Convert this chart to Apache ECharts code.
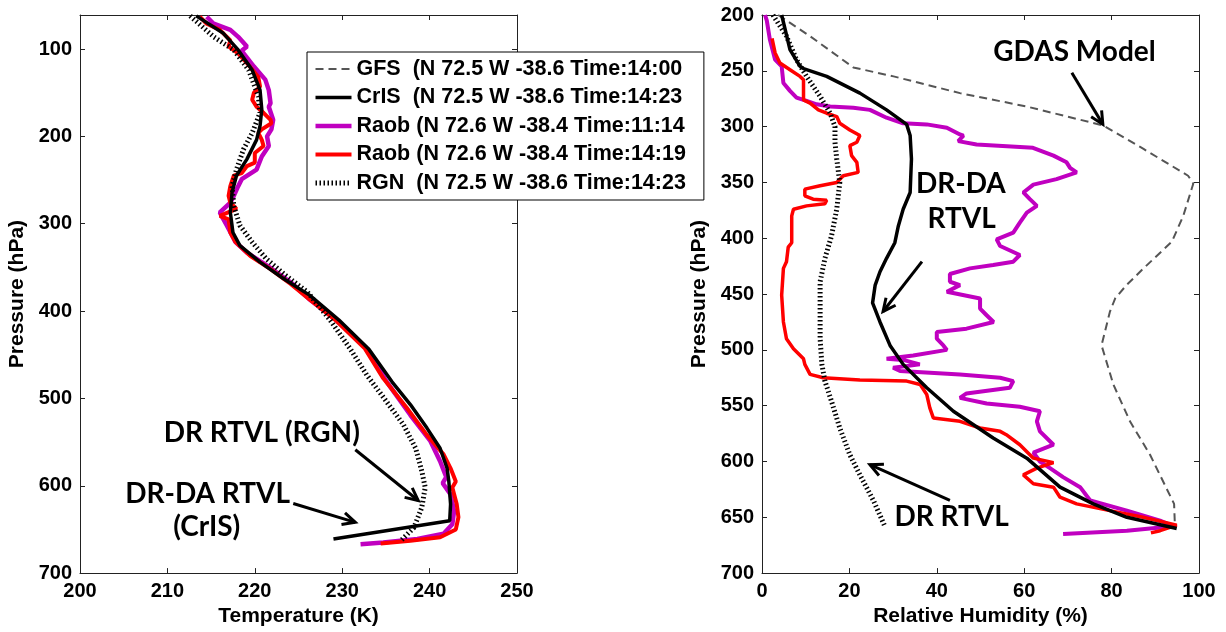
<!DOCTYPE html>
<html>
<head>
<meta charset="utf-8">
<title>Temperature / RH profiles</title>
<script src="https://cdn.jsdelivr.net/npm/echarts@6/dist/echarts.min.js"></script>
<style>
html, body { margin: 0; padding: 0; background: #fff; }
#main { width: 1226px; height: 632px; }
</style>
</head>
<body>
<div id="main"></div>
<script>
// ---- legend names ----
var nameGfs = 'GFS  (N 72.5 W -38.6 Time:14:00';
var nameCris = 'CrIS  (N 72.5 W -38.6 Time:14:23';
var nameRaob1 = 'Raob (N 72.6 W -38.4 Time:11:14';
var nameRaob2 = 'Raob (N 72.6 W -38.4 Time:14:19';
var nameRgn = 'RGN  (N 72.5 W -38.6 Time:14:23';

// ---- left panel: temperature (K) vs pressure (hPa) ----
var crisTempP = [62, 82, 101, 124, 147, 169, 188, 204, 226, 245, 264, 287, 310, 325, 344, 363, 382, 410, 443, 481, 507, 534, 557, 580, 595, 621, 640, 661];
var crisTemp  = [213.3, 216.4, 218.1, 219.7, 220.6, 220.8, 220.6, 220.2, 219.1, 217.9, 217.4, 217.2, 217.5, 218.3, 220.6, 223.3, 226.3, 229.6, 233.0, 235.7, 237.8, 239.7, 241.2, 242.0, 242.2, 242.4, 242.3, 229.0];

var rgnTempP = [62, 86, 101, 124, 154, 173, 196, 215, 238, 257, 280, 302, 321, 340, 359, 378, 410, 443, 473, 504, 530, 557, 583, 602, 625, 648, 663];
var rgnTemp  = [212.6, 215.3, 217.6, 219.3, 220.4, 220.6, 219.7, 218.7, 217.9, 217.4, 217.6, 218.3, 219.7, 221.3, 223.5, 226.0, 228.6, 230.9, 232.8, 235.1, 237.0, 238.4, 239.1, 239.5, 239.1, 238.2, 236.7];

var raob1TempP = [63, 71, 78, 86, 97, 102, 120, 135, 147, 162, 166, 181, 192, 200, 211, 223, 238, 249, 257, 268, 276, 287, 291, 302, 321, 333, 348, 367, 386, 410, 443, 481, 519, 549, 572, 590, 597, 610, 629, 644, 655, 661, 665, 667];
var raob1Temp  = [214.5, 215.3, 217.2, 218.1, 219.1, 218.5, 219.9, 221.2, 221.6, 221.8, 221.6, 222.1, 221.9, 221.4, 221.6, 220.8, 220.2, 218.5, 218.1, 217.6, 217.2, 216.0, 216.2, 216.8, 217.8, 219.1, 221.4, 224.1, 226.2, 229.3, 232.8, 235.1, 237.8, 240.1, 241.2, 241.9, 241.5, 242.4, 242.8, 242.6, 241.6, 238.6, 234.7, 232.1];

var raob2TempP = [63, 71, 78, 90, 97, 105, 116, 132, 143, 150, 158, 166, 173, 181, 185, 192, 196, 204, 211, 219, 230, 234, 242, 245, 257, 268, 276, 283, 291, 295, 310, 321, 337, 352, 369, 386, 410, 443, 477, 511, 542, 564, 580, 595, 602, 621, 636, 650, 659, 663, 666];
var raob2Temp  = [213.7, 214.5, 216.0, 217.2, 217.0, 218.1, 219.1, 220.4, 220.6, 219.9, 219.7, 220.2, 221.0, 221.8, 221.9, 220.8, 220.4, 220.8, 221.0, 220.0, 220.0, 219.1, 218.5, 217.6, 217.2, 217.0, 217.2, 217.9, 216.0, 217.0, 217.2, 217.8, 219.5, 221.8, 224.1, 226.2, 229.2, 232.6, 234.7, 237.4, 239.7, 241.6, 242.4, 243.0, 242.6, 243.1, 243.3, 243.0, 241.2, 237.8, 234.4];

// ---- right panel: relative humidity (%) vs pressure (hPa) ----
var gfsRhP = [200, 219, 247, 255, 270, 282, 299, 320, 344, 351, 380, 403, 427, 442, 454, 466, 496, 531, 564, 594, 638, 659];
var gfsRh  = [3.7, 11.0, 20.9, 30.1, 45.3, 60.6, 78.1, 87.3, 97.5, 98.7, 96.4, 93.8, 87.3, 83.4, 80.8, 79.6, 77.7, 80.4, 84.2, 88.8, 94.3, 94.5];

var crisRhP = [200, 213, 231, 246, 248, 255, 270, 285, 298, 308, 329, 359, 374, 389, 404, 418, 430, 442, 458, 475, 496, 513, 534, 555, 579, 597, 623, 638, 650, 660];
var crisRh  = [4.5, 5.3, 6.4, 8.7, 9.5, 14.8, 22.4, 28.5, 33.1, 33.9, 34.2, 33.9, 32.3, 31.2, 30.4, 28.5, 27.0, 25.9, 25.3, 27.0, 29.3, 32.3, 37.7, 43.8, 52.9, 60.6, 68.2, 75.8, 83.5, 94.9];

var rgnRhP = [200, 219, 240, 255, 273, 288, 300, 314, 329, 350, 374, 398, 418, 439, 460, 490, 513, 528, 546, 570, 594, 612, 635, 658];
var rgnRh  = [2.5, 5.6, 7.9, 10.2, 13.3, 15.6, 16.7, 16.7, 17.1, 17.8, 17.1, 15.9, 14.4, 13.3, 13.3, 13.3, 13.7, 14.4, 15.9, 17.8, 20.1, 22.4, 25.5, 28.1];

var raob1RhP = [200, 205, 222, 240, 246, 261, 268, 274, 277, 280, 282, 283, 285, 292, 297, 298, 301, 307, 308, 313, 316, 319, 326, 332, 337, 341, 347, 352, 359, 365, 371, 377, 386, 395, 401, 407, 415, 421, 424, 427, 432, 439, 442, 448, 454, 463, 469, 475, 481, 484, 490, 496, 500, 505, 508, 509, 513, 516, 519, 522, 525, 528, 534, 539, 543, 548, 551, 555, 564, 573, 585, 592, 600, 606, 614, 623, 635, 644, 653, 658, 662, 665];
var raob1Rh  = [0.7, 1.1, 1.8, 3.0, 4.5, 4.9, 6.4, 7.9, 10.2, 12.5, 15.6, 20.9, 24.7, 28.5, 32.3, 37.7, 42.3, 45.3, 46.1, 44.9, 49.1, 62.0, 66.7, 69.7, 70.5, 72.0, 67.4, 62.1, 59.8, 61.3, 62.9, 60.6, 59.0, 57.5, 53.7, 54.5, 59.0, 57.5, 52.9, 47.6, 43.0, 43.0, 45.3, 42.3, 49.9, 49.9, 51.4, 53.0, 46.8, 40.0, 40.0, 41.5, 42.3, 34.6, 28.5, 32.3, 36.1, 30.0, 31.6, 45.3, 54.5, 57.5, 56.7, 46.8, 45.3, 51.4, 59.0, 63.6, 62.9, 63.6, 66.7, 62.1, 63.6, 65.9, 68.9, 72.8, 75.1, 83.5, 91.1, 94.1, 83.5, 68.9];

var raob2RhP = [221, 234, 243, 249, 255, 258, 276, 279, 285, 288, 291, 297, 303, 308, 314, 317, 326, 332, 341, 344, 350, 353, 356, 362, 365, 366, 369, 371, 374, 380, 404, 408, 421, 427, 451, 475, 490, 499, 508, 513, 522, 525, 527, 528, 531, 540, 552, 561, 564, 570, 573, 576, 585, 597, 601, 606, 612, 620, 623, 632, 638, 644, 650, 657, 662, 664];
var raob2Rh  = [2.3, 3.0, 4.1, 6.4, 8.7, 9.5, 9.5, 11.0, 12.9, 14.8, 17.1, 17.8, 20.1, 22.4, 21.7, 20.1, 20.5, 21.7, 22.0, 18.6, 17.1, 13.3, 9.8, 9.8, 11.7, 14.8, 14.4, 10.2, 7.2, 6.8, 6.8, 6.0, 5.6, 4.9, 4.5, 4.9, 5.6, 7.2, 9.5, 9.8, 11.0, 14.0, 22.4, 33.1, 36.2, 37.7, 38.4, 39.2, 45.3, 49.9, 54.5, 55.9, 59.0, 62.1, 66.7, 62.9, 59.8, 62.1, 66.7, 68.2, 72.0, 79.6, 87.2, 94.9, 91.1, 89.0];

// tick values of the left pressure axis (axis starts a bit above 100 hPa)
var leftPressTicks = [100, 200, 300, 400, 500, 600, 700];

// annotations, in data units of each panel
var notes = [
    {grid: 0, at: [220.8, 540], text: 'DR RTVL (RGN)'},
    {grid: 0, at: [214.6, 609], text: 'DR-DA RTVL'},
    {grid: 0, at: [214.5, 647.5], text: '(CrIS)'},
    {grid: 1, at: [71.5, 233.4], text: 'GDAS Model'},
    {grid: 1, at: [45.5, 351.5], text: 'DR-DA'},
    {grid: 1, at: [45.7, 382.7], text: 'RTVL'},
    {grid: 1, at: [43.4, 650], text: 'DR RTVL'}
];
var arrows = [
    {grid: 0, from: [231.5, 558.8], to: [238.7, 616.9]},
    {grid: 0, from: [224.4, 620.3], to: [231.5, 641.9]},
    {grid: 1, from: [70.9, 251.7], to: [78.0, 298]},
    {grid: 1, from: [36.6, 421], to: [27.7, 465.6]},
    {grid: 1, from: [43.0, 634.9], to: [24.7, 602.9]}
];

function pairs(xs, ps) {
    return xs.map(function (v, i) { return [v, ps[i]]; });
}

var labelFont = {fontFamily: 'Liberation Sans', fontWeight: 'bold', fontSize: 20, color: '#000'};
var nameFont = {fontFamily: 'Liberation Sans', fontWeight: 'bold', fontSize: 21, color: '#000'};

function baseAxis(extra) {
    var a = {
        type: 'value',
        axisLine: {show: true, onZero: false, lineStyle: {color: '#222', width: 1}},
        axisTick: {show: true, inside: true, length: 5, lineStyle: {color: '#222'}},
        axisLabel: Object.assign({margin: 8}, labelFont),
        splitLine: {show: false},
        nameTextStyle: nameFont,
        nameLocation: 'middle'
    };
    return Object.assign(a, extra);
}
function mirror(a, pos) {
    var m = JSON.parse(JSON.stringify(a));
    m.position = pos;
    m.axisLabel = {show: false};
    m.name = '';
    return m;
}

var xLeft = baseAxis({gridIndex: 0, min: 200, max: 250, interval: 10, name: 'Temperature (K)', nameGap: 31});
var yLeft = baseAxis({gridIndex: 0, min: 61, max: 700, inverse: true, name: 'Pressure (hPa)', nameGap: 52});
yLeft.axisLabel.customValues = leftPressTicks;
yLeft.axisTick.customValues = leftPressTicks;
var xRight = baseAxis({gridIndex: 1, min: 0, max: 100, interval: 20, name: 'Relative Humidity (%)', nameGap: 31});
var yRight = baseAxis({gridIndex: 1, min: 200, max: 700, interval: 50, inverse: true, name: 'Pressure (hPa)', nameGap: 52});

var gfsStyle = {color: '#555', width: 2, type: [8, 5]};
var crisStyle = {color: '#000', width: 3.5};
var raob1Style = {color: '#c000c0', width: 4.5};
var raob2Style = {color: '#ff0000', width: 4};
var rgnStyle = {color: '#000', width: 5, type: [1.5, 2.5], cap: 'butt'};

function line(name, xi, yi, data, lineStyle, z) {
    return {
        name: name, type: 'line', xAxisIndex: xi, yAxisIndex: yi,
        data: data, symbol: 'none', showSymbol: false, smooth: false,
        clip: true, lineStyle: lineStyle, itemStyle: {color: lineStyle.color},
        z: z, emphasis: {disabled: true}
    };
}
function legendItem(name, style) {
    return {name: name, lineStyle: style, itemStyle: {opacity: 0, color: style.color}};
}

var chart = echarts.init(document.getElementById('main'));
chart.setOption({
    animation: false,
    backgroundColor: '#fff',
    grid: [
        {left: 80, top: 15, width: 437, height: 561},
        {left: 762, top: 15, width: 437, height: 561}
    ],
    xAxis: [xLeft, mirror(xLeft, 'top'), xRight, mirror(xRight, 'top')],
    yAxis: [yLeft, mirror(yLeft, 'right'), yRight, mirror(yRight, 'right')],
    legend: {
        left: 307, top: 52, orient: 'vertical',
        padding: [6, 18, 6, 6], itemWidth: 36, itemHeight: 14, itemGap: 6.5,
        backgroundColor: '#fff', borderColor: '#000', borderWidth: 1,
        selectedMode: false, z: 20,
        itemStyle: {opacity: 0},
        textStyle: {fontFamily: 'Liberation Sans', fontWeight: 'bold', fontSize: 21.5, color: '#000'},
        data: [
            legendItem(nameGfs, gfsStyle),
            legendItem(nameCris, crisStyle),
            legendItem(nameRaob1, raob1Style),
            legendItem(nameRaob2, raob2Style),
            legendItem(nameRgn, rgnStyle)
        ]
    },
    series: [
        line(nameRaob1, 0, 0, pairs(raob1Temp, raob1TempP), raob1Style, 2),
        line(nameRaob2, 0, 0, pairs(raob2Temp, raob2TempP), raob2Style, 3),
        line(nameCris, 0, 0, pairs(crisTemp, crisTempP), crisStyle, 4),
        line(nameRgn, 0, 0, pairs(rgnTemp, rgnTempP), rgnStyle, 5),
        line(nameGfs, 2, 2, pairs(gfsRh, gfsRhP), gfsStyle, 2),
        line(nameRaob1, 2, 2, pairs(raob1Rh, raob1RhP), {color: '#c000c0', width: 4}, 2),
        line(nameRaob2, 2, 2, pairs(raob2Rh, raob2RhP), {color: '#ff0000', width: 3.5}, 3),
        line(nameCris, 2, 2, pairs(crisRh, crisRhP), crisStyle, 4),
        line(nameRgn, 2, 2, pairs(rgnRh, rgnRhP), rgnStyle, 5)
    ]
});

// annotations placed through the axes
function toPx(grid, v) {
    var ai = grid === 0 ? 0 : 2;
    return chart.convertToPixel({xAxisIndex: ai, yAxisIndex: ai}, v);
}
var gfx = [];
notes.forEach(function (n) {
    var p = toPx(n.grid, n.at);
    gfx.push({
        type: 'text', x: p[0], y: p[1], z: 30,
        style: {text: n.text, fill: '#000', fontFamily: 'Lato', fontWeight: 'bold', fontSize: 28,
                align: 'center', verticalAlign: 'middle'}
    });
});
arrows.forEach(function (a) {
    var p1 = toPx(a.grid, a.from), p2 = toPx(a.grid, a.to);
    var ang = Math.atan2(p2[1] - p1[1], p2[0] - p1[0]);
    var len = 14, spread = 0.45;
    var h1 = [p2[0] - len * Math.cos(ang - spread), p2[1] - len * Math.sin(ang - spread)];
    var h2 = [p2[0] - len * Math.cos(ang + spread), p2[1] - len * Math.sin(ang + spread)];
    gfx.push({type: 'line', z: 30, shape: {x1: p1[0], y1: p1[1], x2: p2[0], y2: p2[1]},
              style: {stroke: '#000', lineWidth: 3}});
    gfx.push({type: 'polyline', z: 30, shape: {points: [h1, p2, h2]},
              style: {stroke: '#000', fill: null, lineWidth: 3}});
});
chart.setOption({graphic: gfx});
</script>
</body>
</html>
